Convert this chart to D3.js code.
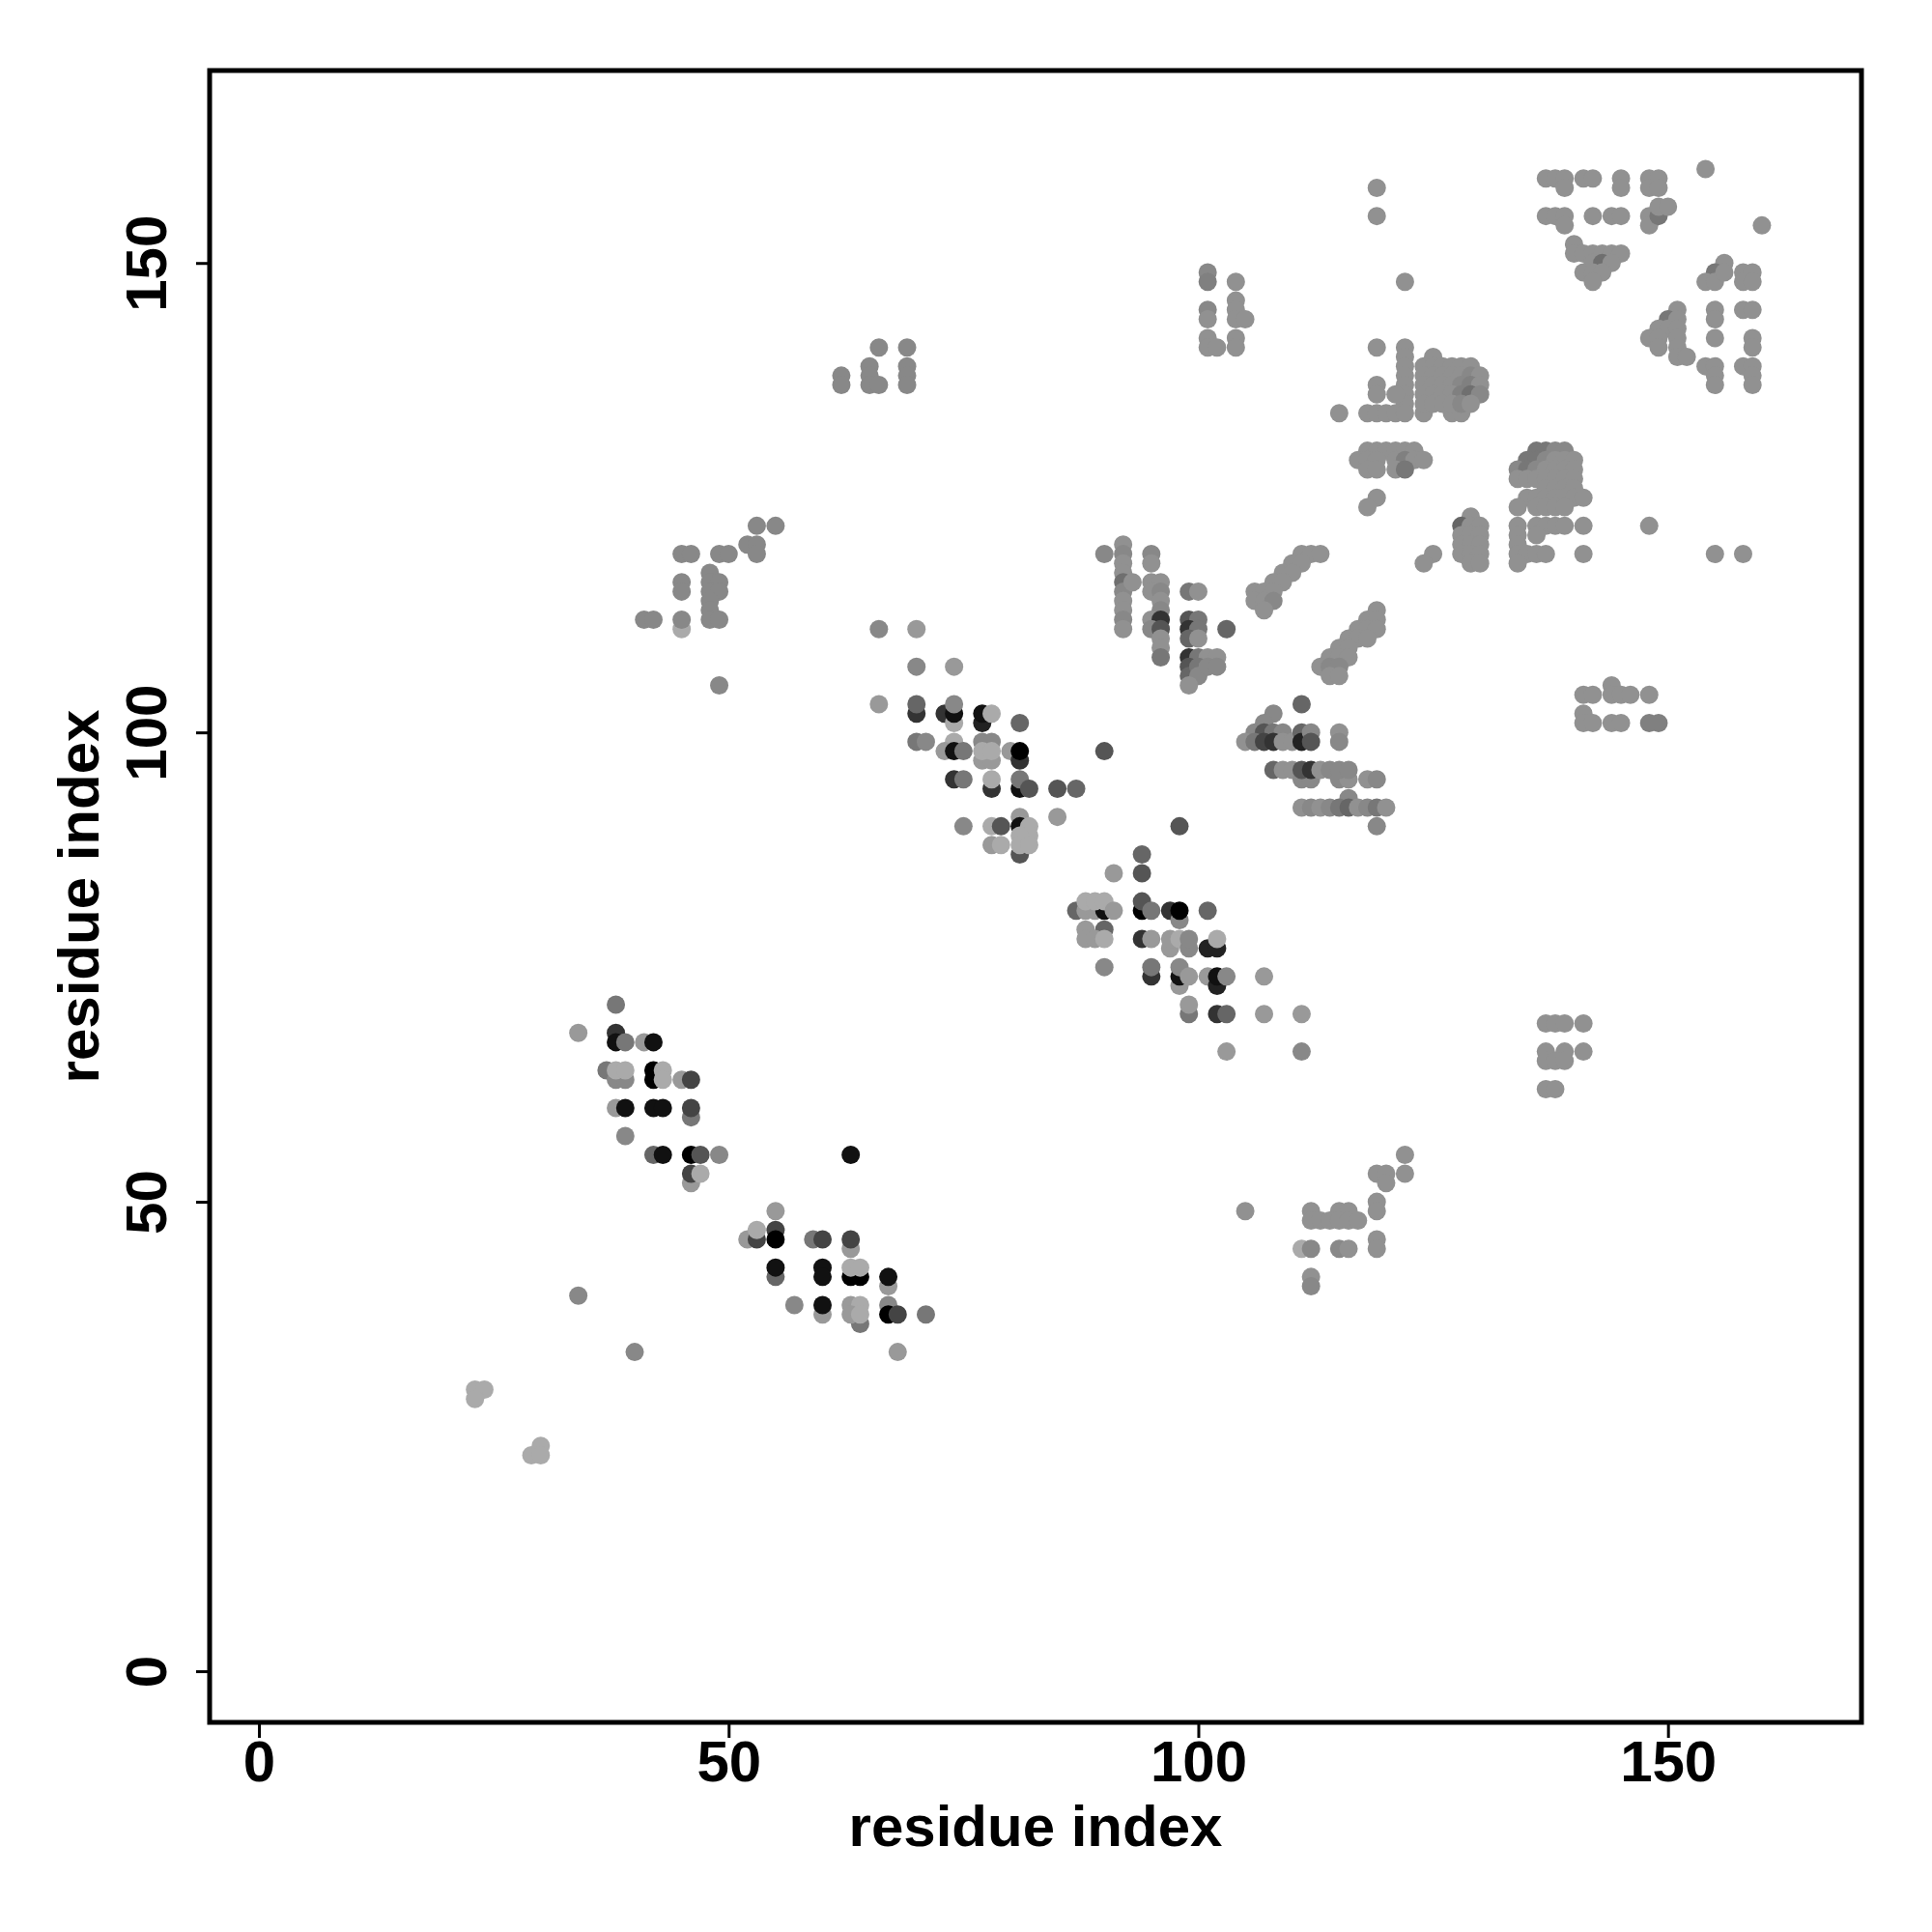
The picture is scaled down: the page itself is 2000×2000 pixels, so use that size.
<!DOCTYPE html>
<html><head><meta charset="utf-8">
<script src="https://cdn.jsdelivr.net/npm/d3@7"></script>
<style>body{margin:0;background:#fff}text{font-family:"Liberation Sans",Arial,sans-serif;font-weight:bold}</style>
</head><body>
<svg id="c" width="2000" height="2000"></svg>
<script>
// contacts: [residue i, residue j, probability]
const strandA = [[38,71,.3],[34,68,.1],[38,68,.7],[38,67,.9],[39,67,.3],[41,67,.1],[42,67,.9],
[37,64,.3],[38,63,.2],[39,63,.2],[38,64,0],[39,64,0],[42,64,1],[42,63,1],[43,64,0],[43,63,0],[45,63,.1],[46,63,.6],
[38,60,.1],[39,60,.9],[42,60,.9],[43,60,.9],[46,59,.3],[46,60,.6],[39,57,.2],
[42,55,.4],[43,55,.9],[46,55,1],[47,55,.5],[49,55,.2],[46,52,.1],[46,53,.6],[47,53,0],
[34,40,.2],[40,34,.2],[23,30,0],[24,30,0],[23,29,0],[29,23,0],[30,24,0],[30,23,0]];
const strandB = [[63,55,.9],[55,49,.1],[52,46,.1],[53,46,.6],[53,47,0],[55,47,.6],[55,46,1],[59,46,.3],[60,46,.6],[63,45,.1],[63,46,.6],
[55,42,.4],[55,43,.9],[60,43,.9],[60,42,.9],[63,42,1],[64,42,1],[63,43,0],[64,43,0],[67,41,.1],[67,42,.9],
[57,39,.2],[60,38,.1],[60,39,.9],[64,37,.3],[63,39,.1],[64,39,0],[63,38,.1],[64,38,0],[67,39,.2],[67,38,1],[68,38,.6],[71,38,.3],[68,34,.1]];
const strandC = [[66,111,.2],[70,111,.1],[70,107,.2],[74,107,.1],
[66,103,.1],[70,102,.7],[70,103,.4],[73,102,.7],[74,101,0],[74,102,.9],[74,103,.2],[77,101,.8],[77,102,.9],[78,102,0],[81,101,.4],
[70,99,.3],[71,99,.2],[74,99,0],[77,97,.1],[78,97,.1],[77,99,.2],[78,99,.2],
[73,98,.1],[74,98,.9],[75,98,.3],[77,98,0],[78,98,0],[80,98,.1],[81,97,.7],[81,98,1],[90,98,.5],
[74,95,.7],[75,95,.3],[78,94,.7],[78,95,0],[81,94,.9],[81,95,.3],[82,94,.5],[85,94,.5],[87,94,.4],
[75,90,.2],[81,91,.1],[85,91,.1],[81,87,.5],
[78,90,0],[79,90,.5],[78,88,.1],[79,88,0],[81,90,.9],[82,90,0],[82,89,0],[81,89,0],[81,88,0],[82,88,0]];
const strandD = [[98,90,.5],[94,87,.4],[94,85,.5],[91,85,.1],
[87,81,.4],[88,81,.1],[89,81,.1],[90,81,.9],[88,82,0],[89,82,0],[90,82,0],[91,81,.1],
[94,81,1],[94,82,.5],[95,81,.3],[97,81,.7],[98,80,.2],[98,81,1],[101,81,.4],
[88,79,.1],[90,79,.4],[88,78,.1],[89,78,.1],[90,78,0],
[94,78,.7],[95,78,.1],[97,77,.1],[97,78,.1],[98,78,0],[99,77,.2],[99,78,.2],[101,77,.8],[102,77,.8],[102,78,0],
[90,75,.2],[95,74,.7],[95,75,.3],[98,73,.1],[98,74,.9],[98,75,.2],[99,74,.1],[101,74,.1],[102,73,.8],[102,74,.9],[103,74,.2],[107,74,.1],
[99,70,.3],[99,71,.1],[102,70,.7],[103,70,.4],[107,70,.1],[111,70,.1],[103,66,.1],[111,66,.2]];
const sheetE = [[53,122,.2],[55,122,.2],[52,120,.2],[53,120,.2],[53,119,.2],
[45,119,.2],[46,119,.2],[49,119,.2],[50,119,.2],
[48,117,.2],[48,116,.2],[49,116,.2],[48,115,.2],[49,115,.2],[48,114,.2],[48,113,.2],[48,112,.2],[49,112,.2],
[45,116,.2],[45,115,.2],[45,111,0],[45,112,.2],[41,112,.2],[42,112,.2],[49,105,.2]];
const sheetF = [[62,138,.2],[62,137,.2],[66,141,.2],[65,139,.2],[65,138,.2],[65,137,.2],[66,137,.2],[69,141,.2],[69,139,.2],[69,138,.2],[69,137,.2]];
const sheetG = [[90,119,.2],[92,120,.15],[92,119,.2],[92,118,.15],[92,117,.15],[92,116,.35],[92,115,.2],[92,114,.15],[92,113,.15],[92,112,.2],[92,111,.15],[93,116,.15],
[95,119,.2],[95,118,.15],[95,116,.15],[96,116,.15],[95,115,.15],[96,115,.2],[96,114,.15],[96,113,.2],[95,112,.15],[96,112,.7],[95,111,.2],[96,111,.5],[96,110,.15],[96,109,.15],[96,108,.3],
[99,115,.3],[100,115,.15],[99,112,.5],[100,112,.3],[99,111,.7],[100,111,.3],[99,110,.4],[100,110,.15],[99,108,.7],[100,108,.3],[101,108,.15],[102,108,.15],[103,111,.4],
[99,107,.5],[99,106,.4],[100,107,.3],[100,106,.2],[101,107,.2],[99,105,.15],[102,107,.2]];
const helixH = [[111,119,.15],[112,119,.15],[113,119,.15],[110,118,.15],[111,118,.15],[109,117,.15],[110,117,.15],[108,116,.15],[109,116,.15],[106,115,.15],[107,115,.15],[108,115,.15],[106,114,.15],[107,114,.15],[108,114,.2],[107,113,.15],
[119,113,.15],[118,112,.15],[119,112,.15],[117,111,.15],[118,111,.15],[119,111,.15],[116,110,.15],[117,110,.15],[118,110,.15],[115,109,.15],[116,109,.15],[114,108,.15],[115,108,.15],[116,108,.15],[113,107,.15],[114,107,.2],[115,107,.2],[114,106,.15],[115,106,.15]];
const sheetI = [[111,103,.4],[108,102,.2],[107,101,.2],[106,100,.2],[107,100,.5],[108,100,.3],[109,100,.2],[105,99,.15],[106,99,.3],[107,99,.6],[108,99,.7],[109,99,.15],[110,99,.15],[111,100,.4],[111,99,.8],[112,100,.2],[112,99,.5],[115,100,.15],[115,99,.2],
[108,96,.4],[109,96,.15],[110,96,.15],[111,95,.2],[112,95,.2],[111,96,.5],[112,96,.7],[113,96,.15],[114,96,.2],[115,95,.2],[116,95,.15],[115,96,.2],[116,96,.2],[118,95,.15],[119,95,.2],
[116,93,.2],[111,92,.15],[112,92,.2],[113,92,.15],[114,92,.2],[115,92,.3],[116,92,.4],[117,92,.15],[118,92,.2],[119,92,.3],[120,92,.15],[119,90,.2]];
const sheetJ = [[122,55,.15],[122,53,.15],[119,53,.15],[120,53,.15],[120,52,.15],[119,50,.15],[119,49,.15],[112,49,.15],[115,49,.15],[116,49,.15],
[112,48,.15],[113,48,.15],[114,48,.15],[115,48,.15],[116,48,.15],[117,48,.15],[119,46,.15],[119,45,.15],[111,45,0],[112,45,.2],[115,45,.2],[116,45,.15],[112,42,.15],[112,41,.2],[105,49,.15]];
const sheetK = [[119,158,.15],[119,155,.15],
[101,149,.2],[101,148,.25],[104,148,.15],[104,146,.15],[104,145,.15],[104,144,.15],[105,144,.15],[101,145,.2],[101,144,.15],[101,142,.15],[101,141,.15],[102,141,.15],[104,142,.15],[104,141,.15],
[122,148,.15],[119,141,.15],[122,141,.15],[122,140,.15],[122,139,.15],[122,138,.15],[122,137,.15],[122,136,.15],[122,135,.15],[119,137,.15],[119,136,.15],[121,136,.15],
[115,134,.15],[118,134,.15],[119,134,.15],[120,134,.15],[121,134,.15],[122,134,.15],[124,134,.15],[127,134,.15],[128,134,.15],
[125,140,.15],[124,139,.15],[125,139,.15],[126,139,.15],[127,139,.15],[128,139,.15],[129,139,.15],
[124,138,.15],[125,138,.15],[126,138,.15],[127,138,.15],[128,138,.15],[129,138,.2],[130,138,.15],
[124,137,.15],[125,137,.15],[126,137,.15],[127,137,.15],[128,137,.2],[129,137,.25],[130,137,.15],
[124,136,.15],[125,136,.15],[126,136,.15],[127,136,.15],[128,136,.25],[129,136,.35],[130,136,.2],
[124,135,.15],[125,135,.15],[126,135,.15],[127,135,.15],[128,135,.2],[129,135,.15],
[118,130,.15],[119,130,.15],[120,130,.15],[121,130,.15],[122,130,.15],[123,130,.15],
[117,129,.15],[118,129,.15],[119,129,.15],[121,129,.15],[122,129,.25],[123,129,.15],[124,129,.15],[118,128,.15],[119,128,.15],[121,128,.15],[122,128,.3],
[119,125,.15],[118,124,.15],
[129,123,.15],[128,122,.4],[129,122,.15],[130,122,.15],[128,121,.15],[129,121,.15],[130,121,.15],[128,120,.15],[129,120,.15],[130,120,.15],[128,119,.15],[129,119,.15],[130,119,.15],[129,118,.15],[130,118,.15],[125,119,.15],[124,118,.15]];
const sheetL = [[154,160,.15],
[137,159,.15],[138,159,.15],[139,159,.15],[139,158,.15],[141,159,.15],[142,159,.15],[145,159,.15],[145,158,.15],[148,159,.15],[149,159,.15],[148,158,.15],[149,158,.15],
[137,155,.15],[138,155,.15],[139,155,.15],[139,154,.15],[142,155,.15],[144,155,.15],[145,155,.15],[148,155,.15],[148,154,.15],[149,155,.3],[149,156,.15],[150,156,.15],
[160,154,.15],
[140,152,.15],[140,151,.15],[141,151,.15],[142,151,.15],[143,151,.15],[144,151,.15],[145,151,.15],[142,150,.15],[143,150,.35],[144,150,.15],[141,149,.15],[142,149,.15],[143,149,.15],[142,148,.15],
[156,150,.15],[155,149,.3],[154,148,.15],[155,148,.15],[156,149,.15],[158,149,.15],[159,149,.15],[158,148,.15],[159,148,.15],
[151,145,.15],[150,144,.3],[151,144,.15],[149,143,.15],[150,143,.15],[151,143,.15],[148,142,.15],[149,142,.15],[151,142,.15],[149,141,.15],[151,141,.15],[151,140,.15],[152,140,.15],
[155,145,.15],[155,144,.15],[158,145,.15],[159,145,.15],[155,142,.15],[159,142,.15],[159,141,.15],
[154,139,.15],[155,139,.15],[155,138,.15],[155,137,.15],[158,139,.15],[159,139,.15],[159,138,.15],[159,137,.15]];
const sheetM = [[136,130,.3],[137,130,.3],[138,130,.2],[139,130,.2],
[135,129,.3],[136,129,.3],[137,129,.2],[138,129,.15],[139,129,.15],[140,129,.15],
[134,128,.2],[135,128,.3],[136,128,.2],[137,128,.15],[138,128,.15],[139,128,.15],[140,128,.15],
[134,127,.15],[135,127,.15],[136,127,.15],[137,127,.15],[138,127,.15],[139,127,.15],[140,127,.15],
[137,126,.15],[138,126,.15],[139,126,.15],[140,126,.15],
[135,125,.15],[136,125,.15],[137,125,.15],[138,125,.15],[139,125,.15],[140,125,.15],[141,125,.15],
[134,124,.15],[136,124,.15],[137,124,.15],[138,124,.15],[139,124,.15],
[134,122,.15],[136,122,.15],[137,122,.15],[138,122,.15],[139,122,.15],[141,122,.15],[148,122,.15],
[134,121,.15],[136,121,.15],[134,120,.15],[134,119,.15],[135,119,.15],[136,119,.15],[137,119,.15],[141,119,.15],[155,119,.15],[158,119,.15],[134,118,.15]];
const sheetN = [[141,104,.15],[142,104,.15],[144,105,.15],[144,104,.15],[145,104,.15],[146,104,.15],[148,104,.15],
[141,102,.15],[141,101,.15],[142,101,.15],[144,101,.15],[145,101,.15],[148,101,.25],[149,101,.25],
[137,69,.15],[138,69,.15],[139,69,.15],[141,69,.15],[137,66,.15],[139,66,.15],[141,66,.15],[137,65,.15],[138,65,.15],[139,65,.15],[137,62,.15],[138,62,.15]];

const xTicks = [0, 50, 100, 150];
const yTicks = [0, 50, 100, 150];
const xTitle = "residue index", yTitle = "residue index";

const contacts = [].concat(strandA, strandB, strandC, strandD, sheetE, sheetF, sheetG, helixH, sheetI, sheetJ, sheetK, sheetL, sheetM, sheetN);

const svg = d3.select("#c");
const L = 217, R = 1927, T = 73, B = 1783;
const x = d3.scaleLinear().domain([-5.25, 170.6]).range([L, R]);
const y = d3.scaleLinear().domain([-5.45, 170.5]).range([B, T]);
const col = d3.scaleLinear().domain([0, 1]).range(["#aaaaaa", "#000000"]);

svg.append("g").selectAll("circle").data(contacts).join("circle")
  .attr("cx", d => x(d[0])).attr("cy", d => y(d[1])).attr("r", 9.5)
  .attr("fill", d => col(d[2]));

svg.append("rect").attr("x", L).attr("y", T).attr("width", R - L).attr("height", B - T)
  .attr("fill", "none").attr("stroke", "#000").attr("stroke-width", 5);

const FS = 60;
const gx = svg.append("g").attr("transform", `translate(0,${B})`)
  .call(d3.axisBottom(x).tickValues(xTicks).tickSize(16).tickPadding(2).tickFormat(d3.format("d")));
gx.select(".domain").remove();
gx.selectAll("line").attr("stroke-width", 3);
gx.selectAll("text").attr("font-size", FS).attr("fill", "#000")
  .style("font-family", '"Liberation Sans",Arial,sans-serif').style("font-weight", "bold");

const gy = svg.append("g").attr("transform", `translate(${L},0)`)
  .call(d3.axisLeft(y).tickValues(yTicks).tickSize(14).tickFormat(d3.format("d")));
gy.select(".domain").remove();
gy.selectAll("line").attr("stroke-width", 3);
gy.selectAll("text").remove();
gy.selectAll(".tick").append("text")
  .attr("transform", "translate(-45,0) rotate(-90)")
  .attr("text-anchor", "middle").attr("font-size", FS).attr("fill", "#000")
  .style("font-family", '"Liberation Sans",Arial,sans-serif').style("font-weight", "bold")
  .text(d => d3.format("d")(d));

svg.append("text").attr("x", (L + R) / 2).attr("y", 1911).attr("text-anchor", "middle")
  .attr("font-size", FS).text(xTitle);
svg.append("text").attr("transform", `translate(102,${(T + B) / 2}) rotate(-90)`)
  .attr("text-anchor", "middle").attr("font-size", FS).text(yTitle);
</script>
</body></html>
